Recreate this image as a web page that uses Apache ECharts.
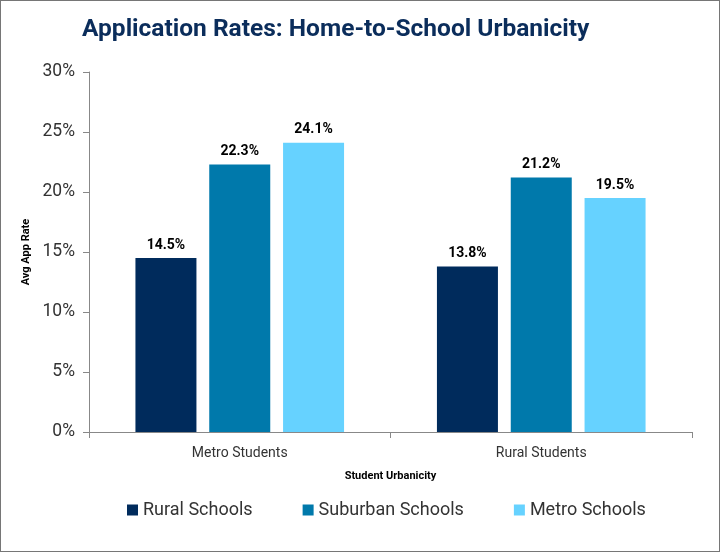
<!DOCTYPE html>
<html>
<head>
<meta charset="UTF-8">
<script src="https://cdn.jsdelivr.net/npm/echarts@6/dist/echarts.min.js"></script>
<title>Application Rates</title>
<style>
  html, body { margin: 0; padding: 0; background: #fff; }
  #chart { width: 718px; height: 550px; border: 1px solid #767676; }
</style>
</head>
<body>
<div id="chart"></div>
<script type="text/javascript">
    // data
    var categories = ['Metro Students', 'Rural Students'];
    var seriesNames = ['Rural Schools', 'Suburban Schools', 'Metro Schools'];
    var ruralSchools = [14.5, 13.8];
    var suburbanSchools = [22.3, 21.2];
    var metroSchools = [24.1, 19.5];
    var colors = ['#002b5c', '#0079ab', '#66d2ff'];

    var font = 'Roboto, "Noto Sans", sans-serif';

    function makeSeries(name, data, color) {
        return {
            name: name,
            type: 'bar',
            data: data,
            barWidth: 61,
            barGap: '21%',
            itemStyle: { color: color },
            label: {
                show: true,
                position: 'top',
                distance: 6,
                color: '#000',
                fontWeight: 'bold',
                fontSize: 14,
                fontFamily: font,
                formatter: function (p) { return p.value.toFixed(1) + '%'; }
            }
        };
    }

    var myChart = echarts.init(document.getElementById('chart'));
    myChart.setOption({
        animation: false,
        title: {
            text: 'Application Rates: Home-to-School Urbanicity',
            left: 76,
            top: 11,
            textStyle: { color: '#0b2d5b', fontSize: 24.5, fontWeight: 'bold', fontFamily: font }
        },
        legend: {
            data: seriesNames,
            bottom: 27,
            left: 121,
            itemWidth: 11,
            itemHeight: 11,
            itemGap: 50,
            icon: 'rect',
            textStyle: { fontSize: 18, color: '#333', fontFamily: font }
        },
        grid: { left: 88, right: 27, top: 71, bottom: 119 },
        xAxis: {
            type: 'category',
            data: categories,
            name: 'Student Urbanicity',
            nameLocation: 'middle',
            nameGap: 39,
            nameTextStyle: { fontWeight: 'bold', fontSize: 11, color: '#000', fontFamily: font },
            axisLine: { lineStyle: { color: '#888' } },
            axisTick: { show: true, length: 6, lineStyle: { color: '#888' } },
            axisLabel: { fontSize: 14, color: '#333', margin: 14, fontFamily: font }
        },
        yAxis: {
            type: 'value',
            min: 0,
            max: 30,
            interval: 5,
            name: 'Avg App Rate',
            nameLocation: 'middle',
            nameGap: 56,
            nameTextStyle: { fontWeight: 'bold', fontSize: 11, color: '#000', fontFamily: font },
            axisLine: { show: true, lineStyle: { color: '#888' } },
            axisTick: { show: true, length: 6, lineStyle: { color: '#888' } },
            splitLine: { show: false },
            axisLabel: { fontSize: 17.5, color: '#333', margin: 14, fontFamily: font, formatter: '{value}%' }
        },
        series: [
            makeSeries(seriesNames[0], ruralSchools, colors[0]),
            makeSeries(seriesNames[1], suburbanSchools, colors[1]),
            makeSeries(seriesNames[2], metroSchools, colors[2])
        ]
    });
</script>
</body>
</html>
